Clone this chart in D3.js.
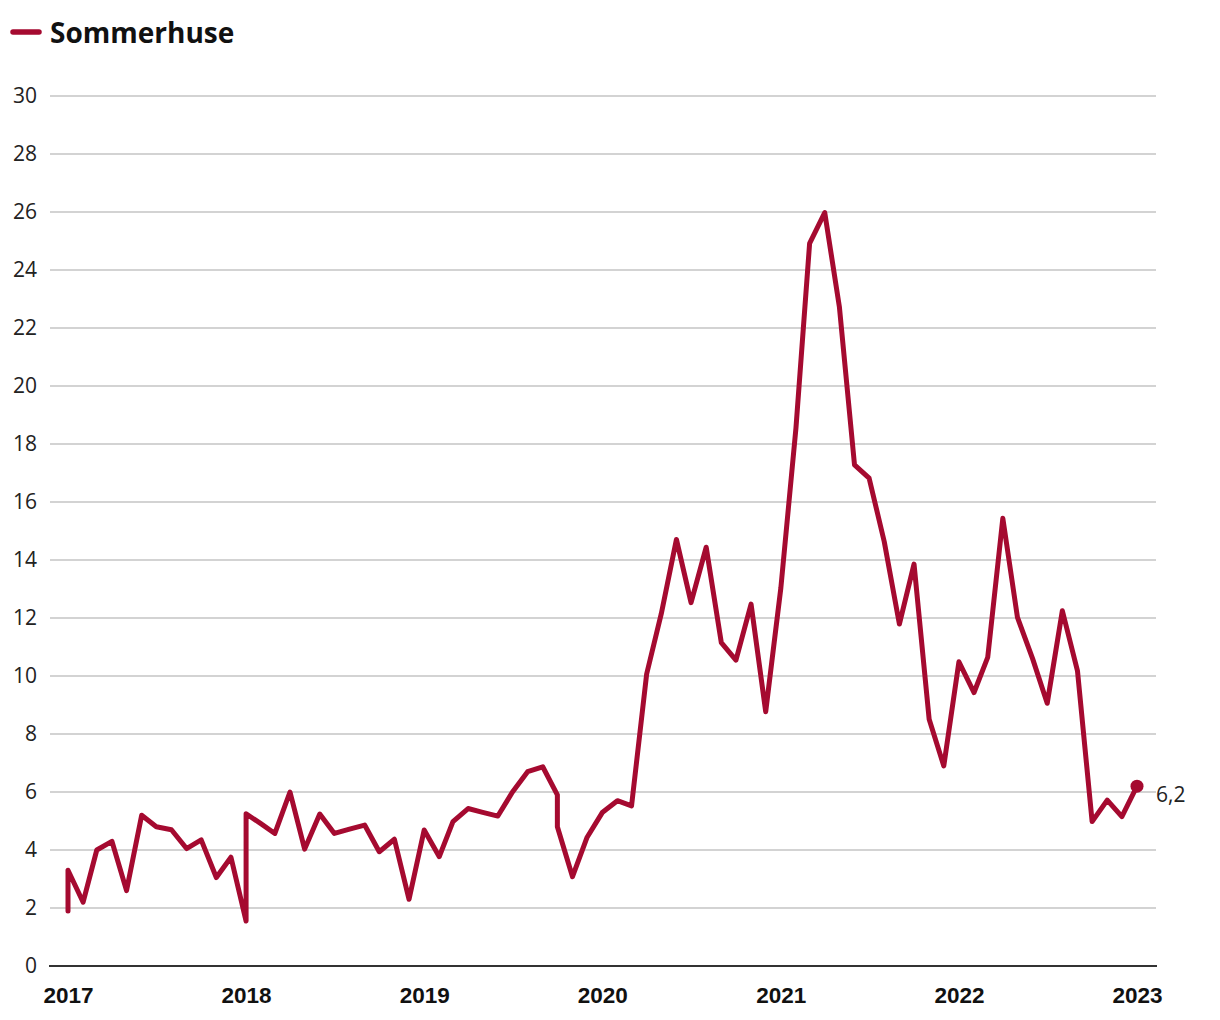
<!DOCTYPE html>
<html>
<head>
<meta charset="utf-8">
<script src="https://cdn.jsdelivr.net/npm/d3@7"></script>
<style>
  html, body { margin: 0; padding: 0; background: #fff; }
  svg { display: block; }
</style>
</head>
<body>
<svg id="chart" width="1220" height="1020"></svg>
<script>
const seriesName = "Sommerhuse";
const months = [
  "2017-01","2017-01","2017-02","2017-03","2017-04","2017-05","2017-06","2017-07","2017-08","2017-09","2017-10","2017-11","2017-12",
  "2018-01","2018-01","2018-02","2018-03","2018-04","2018-05","2018-06","2018-07","2018-08","2018-09","2018-10","2018-11","2018-12",
  "2019-01","2019-02","2019-03","2019-04","2019-05","2019-06","2019-07","2019-08","2019-09","2019-10","2019-10","2019-11","2019-12",
  "2020-01","2020-02","2020-03","2020-04","2020-05","2020-06","2020-07","2020-08","2020-09","2020-10","2020-11","2020-12",
  "2021-01","2021-02","2021-03","2021-04","2021-05","2021-06","2021-07","2021-08","2021-09","2021-10","2021-11","2021-12",
  "2022-01","2022-02","2022-03","2022-04","2022-05","2022-06","2022-07","2022-08","2022-09","2022-10","2022-11","2022-12",
  "2023-01"
];
const values = [
  1.9, 3.3, 2.2, 4.0, 4.3, 2.6, 5.2, 4.8, 4.7, 4.05, 4.35, 3.05, 3.75,
  1.55, 5.25, 4.9, 4.57, 6.0, 4.03, 5.24, 4.57, 4.72, 4.86, 3.94, 4.37, 2.3,
  4.69, 3.77, 4.98, 5.43, 5.3, 5.17, 6.0, 6.7, 6.87, 5.9, 4.8, 3.08, 4.44,
  5.29, 5.7, 5.52, 10.07, 12.15, 14.71, 12.53, 14.44, 11.15, 10.55, 12.48, 8.77,
  13.03, 18.55, 24.92, 25.98, 22.73, 17.28, 16.82, 14.63, 11.79, 13.86, 8.51, 6.9,
  10.49, 9.43, 10.64, 15.44, 12.02, 10.6, 9.06, 12.25, 10.18, 4.98, 5.72, 5.15,
  6.2
];
const yTicks = [0, 2, 4, 6, 8, 10, 12, 14, 16, 18, 20, 22, 24, 26, 28, 30];
const xTickYears = [2017, 2018, 2019, 2020, 2021, 2022, 2023];
const lastLabel = "6,2";

const color = "#a50a30";
const parse = d3.timeParse("%Y-%m");
const data = months.map((m, i) => ({ date: parse(m), value: values[i] }));

const svg = d3.select("#chart");
const x = d3.scaleTime()
  .domain([new Date(2017, 0, 1), new Date(2023, 0, 1)])
  .range([68, 1137]);
const y = d3.scaleLinear().domain([0, 30]).range([966, 96]);

// Grid lines
svg.append("g")
  .selectAll("line")
  .data(yTicks.filter(d => d !== 0))
  .join("line")
  .attr("x1", 50).attr("x2", 1156)
  .attr("y1", d => y(d)).attr("y2", d => y(d))
  .attr("stroke", "#c4c4c4").attr("stroke-width", 1.5);

// Y tick labels
svg.append("g")
  .selectAll("text")
  .data(yTicks)
  .join("text")
  .attr("x", 37)
  .attr("y", d => y(d))
  .attr("dy", "0.35em")
  .attr("text-anchor", "end")
  .attr("font-family", "'Open Sans', 'Noto Sans', sans-serif")
  .attr("font-size", 21)
  .attr("fill", "#222")
  .text(d => d);

// X axis
const xAxis = d3.axisBottom(x)
  .tickValues(xTickYears.map(yr => new Date(yr, 0, 1)))
  .tickFormat(d3.timeFormat("%Y"))
  .tickSize(0)
  .tickPadding(21);
const gx = svg.append("g").attr("transform", `translate(0,${y(0)})`).call(xAxis);
gx.select(".domain").remove();
gx.selectAll("text")
  .attr("font-family", "'Liberation Sans', Arial, sans-serif")
  .attr("font-weight", "bold")
  .attr("font-size", 22.5)
  .attr("fill", "#111");
svg.append("line")
  .attr("x1", 49).attr("x2", 1157)
  .attr("y1", y(0)).attr("y2", y(0))
  .attr("stroke", "#333").attr("stroke-width", 2);

// Line
const line = d3.line().x(d => x(d.date)).y(d => y(d.value));
svg.append("path")
  .datum(data)
  .attr("d", line)
  .attr("fill", "none")
  .attr("stroke", color)
  .attr("stroke-width", 5)
  .attr("stroke-linejoin", "round")
  .attr("stroke-linecap", "round");

// End point and label
const last = data[data.length - 1];
svg.append("circle")
  .attr("cx", x(last.date)).attr("cy", y(last.value))
  .attr("r", 6.5).attr("fill", color);
svg.append("text")
  .attr("x", x(last.date) + 19)
  .attr("y", y(last.value) + 8)
  .attr("dy", "0.35em")
  .attr("font-family", "'Open Sans', 'Noto Sans', sans-serif")
  .attr("font-size", 21)
  .attr("fill", "#222")
  .text(lastLabel);

// Legend
svg.append("line")
  .attr("x1", 13).attr("x2", 39)
  .attr("y1", 32).attr("y2", 32)
  .attr("stroke", color).attr("stroke-width", 5.5)
  .attr("stroke-linecap", "round");
svg.append("text")
  .attr("x", 50).attr("y", 33)
  .attr("dy", "0.35em")
  .attr("font-family", "'Open Sans', 'Noto Sans', sans-serif")
  .attr("font-weight", "bold")
  .attr("font-size", 28)
  .attr("fill", "#111")
  .text(seriesName);
</script>
</body>
</html>
